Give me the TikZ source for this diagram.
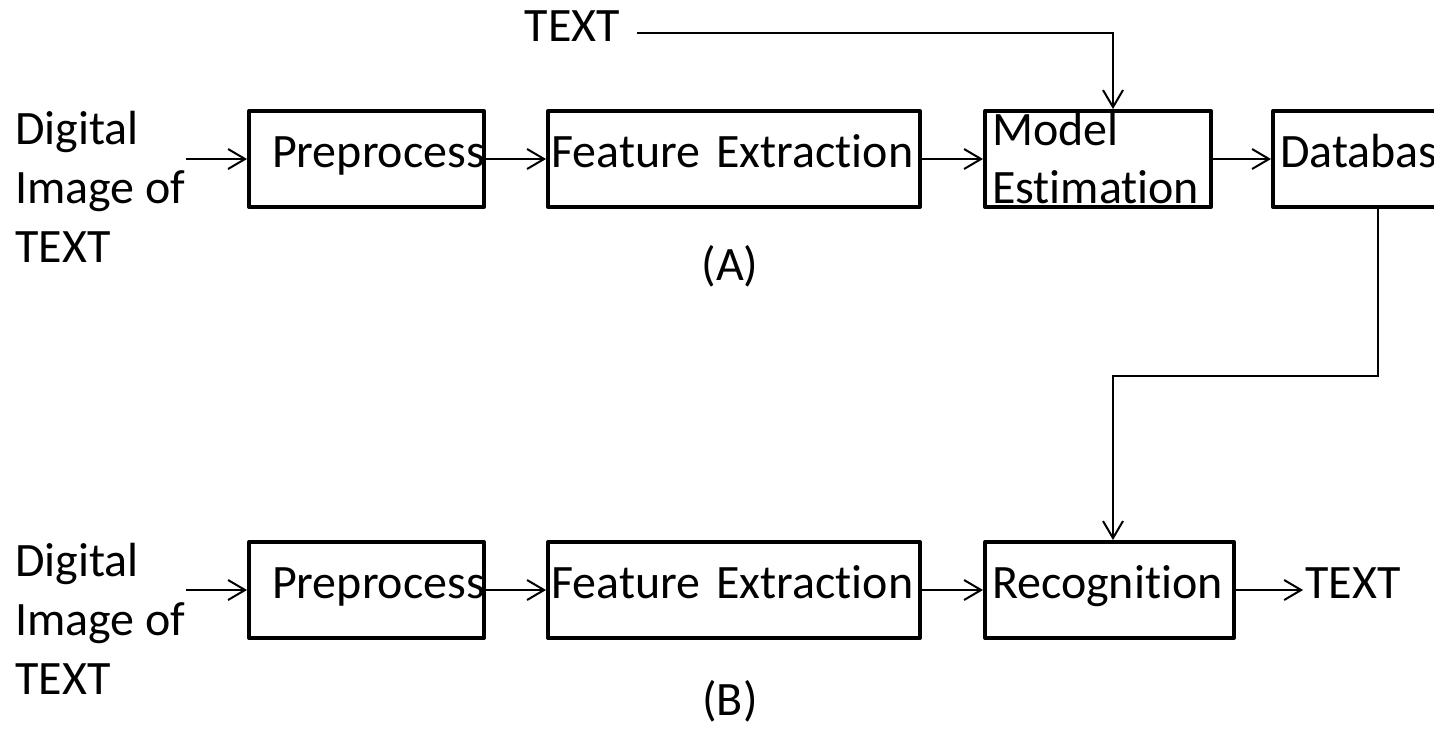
\documentclass[tikz,border=0pt]{standalone}
\usepackage{fontspec}
\setmainfont{Carlito}[Ligatures=NoCommon]
\usetikzlibrary{arrows.meta}
\begin{document}
\begin{tikzpicture}[x=0.02cm,y=-0.02cm,font=\fontsize{27.3}{33.5}\selectfont,
    box/.style={draw,line width=0.08cm,line join=round,minimum height=1.92cm,inner ysep=0pt,inner xsep=0.14cm,align=left,text height=0.5cm,text depth=0.18cm,execute at begin node={\hyphenpenalty=10000 }},
    lbl/.style={inner sep=0pt,text height=0.5cm,text depth=0.18cm},
    arr/.style={line width=0.04cm,-{Straight Barb[length=0.34cm,width=0.4cm]}}]
    \clip (0,0) rectangle (1434,728);
    % training chain
    \node[anchor=north west,inner sep=0pt,align=left] (src1) at (15,111) {Digital\\Image of\\TEXT};
    \node[box,text width=3.78cm,inner xsep=0.46cm] (pre1) at (366.5,159) {Preprocess};
    \node[box,text width=7.3cm,inner xsep=0.07cm] (fe1) at (734,159) {Feature Extraction};
    \node[box,text width=4.24cm,text height=0.5cm,text depth=1.06cm] (model) at (1098,159) {Model\\Estimation};
    \node[box,text width=3.64cm] (db) at (1371,159) {Database};
    \node[lbl,inner xsep=0.34cm] (txt) at (572.5,33) {TEXT};
    \node[lbl] (capA) at (730,272) {(A)};
    \coordinate (in1) at (186,159);
    \draw[arr] (in1) -- (pre1.west);
    \draw[arr] (pre1.east) -- (fe1.west);
    \draw[arr] (fe1.east) -- (model.west);
    \draw[arr] (model.east) -- (db.west);
    \draw[arr] (txt.east) -| ([xshift=0.3cm]model.north);
    % recognition chain
    \node[anchor=north west,inner sep=0pt,align=left] (src2) at (15,543) {Digital\\Image of\\TEXT};
    \node[box,text width=3.78cm,inner xsep=0.46cm] (pre2) at (366.5,590) {Preprocess};
    \node[box,text width=7.3cm,inner xsep=0.07cm] (fe2) at (734,590) {Feature Extraction};
    \node[box,text width=4.7cm] (rec) at (1109.5,590) {Recognition};
    \node[lbl,inner xsep=0.04cm] (out) at (1353,590) {TEXT};
    \node[lbl] (capB) at (730,707) {(B)};
    \coordinate (in2) at (186,590);
    \draw[arr] (in2) -- (pre2.west);
    \draw[arr] (pre2.east) -- (fe2.west);
    \draw[arr] (fe2.east) -- (rec.west);
    \draw[arr] (rec.east) -- (out.west);
    \draw[arr] ([xshift=0.14cm]db.south) -- ++(0,167) -| ([xshift=0.07cm]rec.north);
\end{tikzpicture}
\end{document}
